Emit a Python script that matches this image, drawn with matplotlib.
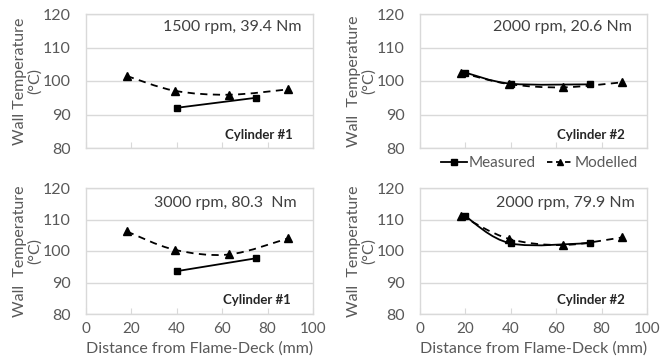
import numpy as np
import matplotlib.pyplot as plt
from matplotlib.path import Path
from matplotlib.patches import PathPatch

plt.rcParams['font.family'] = ['Lato', 'DejaVu Sans']

# Dados
titles = ['1500 rpm, 39.4 Nm', '2000 rpm, 20.6 Nm', '3000 rpm, 80.3  Nm', '2000 rpm, 79.9 Nm']
cylinders = ['Cylinder #1', 'Cylinder #2', 'Cylinder #1', 'Cylinder #2']
ylabels = ['Wall Temperature\n(°C)', 'Wall  Temperature\n(°C)',
           'Wall  Temperature\n(°C)', 'Wall  Temperature\n(°C)']

meas_x = [[40, 75], [20, 40, 75], [40, 75], [20, 40, 75]]
meas_y = [[92.0, 95.0], [102.5, 99.2, 99.0], [93.6, 97.7], [111.0, 102.4, 102.5]]
mod_x = [[18, 39, 63, 89], [18, 39, 63, 89], [18, 39, 63, 89], [18, 39, 63, 89]]
mod_y = [[101.5, 97.1, 95.9, 97.5], [102.5, 99.1, 98.1, 99.6],
         [106.2, 100.4, 98.9, 104.0], [111.2, 103.9, 101.9, 104.3]]

grey = '#595959'
light = '#d9d9d9'


def smooth_line(ax, x, y, ls):
    # curva suavizada (estilo Excel) com Bezier
    x = np.asarray(x, float)
    y = np.asarray(y, float)
    pts = np.column_stack([x, y])
    n = len(pts)
    verts = [pts[0]]
    codes = [Path.MOVETO]
    for i in range(n - 1):
        p0 = pts[max(i - 1, 0)]
        p1 = pts[i]
        p2 = pts[i + 1]
        p3 = pts[min(i + 2, n - 1)]
        c1 = p1 + (p2 - p0) / 6
        c2 = p2 - (p3 - p1) / 6
        verts += [c1, c2, p2]
        codes += [Path.CURVE4] * 3
    patch = PathPatch(Path(verts, codes), fill=False, edgecolor='black',
                      lw=1.3, ls=ls)
    ax.add_patch(patch)


fig = plt.figure(figsize=(6.6, 3.56), dpi=100)
W, H = 660, 356
boxes = [(86, 14, 313, 148), (420, 14, 647, 148), (86, 188, 313, 314), (420, 188, 647, 314)]
txt_pos = [(0.95, 0.90), (0.935, 0.90), (0.93, 0.88), (0.947, 0.88)]
cyl_pos = [(0.912, 0.097), (0.90, 0.097), (0.90, 0.11), (0.90, 0.11)]

axes = []
for k, (l, t, r, b) in enumerate(boxes):
    ax = fig.add_axes([l / W, 1 - b / H, (r - l) / W, (b - t) / H])
    axes.append(ax)
    ax.set_xlim(0, 100)
    ax.set_ylim(80, 120)
    ax.set_yticks([80, 90, 100, 110, 120])
    ax.set_xticks([0, 20, 40, 60, 80, 100])
    for s in ax.spines.values():
        s.set_color(light)
        s.set_linewidth(1)
    ax.grid(axis='y', color=light, lw=1)
    ax.set_axisbelow(True)
    ax.tick_params(axis='y', length=0, labelsize=11.5, labelcolor=grey, pad=11)
    ax.tick_params(axis='x', direction='in', length=4, color=light,
                   labelsize=11, labelcolor=grey, pad=6)
    if k < 2:
        ax.tick_params(axis='x', labelbottom=False)
    else:
        ax.set_xlabel('Distance from Flame-Deck (mm)', fontsize=11.5,
                      color=grey, va='center')
        ax.xaxis.set_label_coords(0.5, -35 / (b - t))
    ax.set_ylabel(ylabels[k], fontsize=11.5, color=grey, va='center',
                  linespacing=1.1)
    ax.yaxis.set_label_coords(-58.5 / 227, 0.5)

    smooth_line(ax, mod_x[k], mod_y[k], (0, (4, 3)))
    smooth_line(ax, meas_x[k], meas_y[k], '-')
    ax.plot(mod_x[k], mod_y[k], ls='none', marker='^', color='black', ms=5.5)
    ax.plot(meas_x[k], meas_y[k], ls='none', marker='s', color='black', ms=5)

    ax.text(txt_pos[k][0], txt_pos[k][1], titles[k], transform=ax.transAxes,
            ha='right', va='center', fontsize=11.5, color='#404040')
    ax.text(cyl_pos[k][0], cyl_pos[k][1], cylinders[k], transform=ax.transAxes,
            ha='right', va='center', fontsize=9.5, fontweight='bold', color='#262626')

# legenda
h1, = axes[1].plot([], [], '-', marker='s', color='black', ms=4.5, lw=1.3)
h2, = axes[1].plot([], [], '--', marker='^', color='black', ms=5, lw=1.3,
                   dashes=(3, 2))
axes[1].legend([h1, h2], ['Measured', 'Modelled'], loc='center',
               bbox_to_anchor=(0.526, -0.112), ncol=2, frameon=False,
               fontsize=11, labelcolor=grey, handlelength=1.75,
               handletextpad=0.1, columnspacing=0.7, borderpad=0)

fig.savefig('out.png', dpi=100)
